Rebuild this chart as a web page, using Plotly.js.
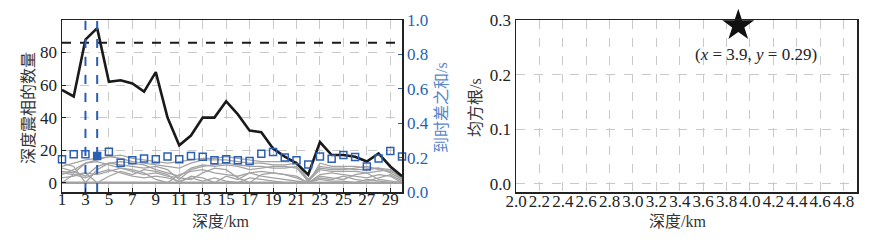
<!DOCTYPE html>
<html>
<head>
<meta charset="utf-8">
<script src="https://cdn.plot.ly/plotly-3.0.1.min.js"></script>
<style>html,body{margin:0;padding:0;background:#fff;}#plot{width:875px;height:240px;}</style>
</head>
<body>
<div id="plot"></div>
<script>
// ---- data ----
const depths = [1,2,3,4,5,6,7,8,9,10,11,12,13,14,15,16,17,18,19,20,21,22,23,24,25,26,27,28,29,30];
const phaseCount = [57,53,88,95,62,63,61,56,68,40,23,29,40,40,50,42,32,31,21,16,12,5,25,17,17,16,13,18,10,4];
const timeDiffSum = [0.19,0.22,0.22,0.21,0.234,0.17,0.185,0.195,0.19,0.206,0.19,0.21,0.205,0.185,0.19,0.185,0.18,0.222,0.232,0.20,0.185,0.16,0.206,0.193,0.215,0.203,0.148,0.195,0.238,0.206];
const bestIndex = 3;           // depth 4 km highlighted (filled square)
const selectedDepths = [3, 4]; // vertical dashed markers
const threshold = 86;          // horizontal dashed line
const grayA = [10,12,14,15,16,17,15,14,13,12,13,14,15,15,16,15,14,13,13,13,13,0,12,10,10,10,9,9,8,3];
const grayB = [5,8,12,14,16,15,13,12,11,10,9,12,14,14,14,13,12,12,11,11,12,2,9,8,8,9,10,8,7,4];
const grayC = [12,10,0,8,12,11,10,9,10,8,2,8,10,11,12,11,10,10,9,9,10,1,8,7,7,7,6,7,8,2];
const grayD = [3,4,6,5,7,9,8,6,2,0,5,7,8,6,5,4,6,7,6,5,3,0,5,6,5,4,3,5,4,0];
const grayE = [7,6,12,13,11,9,7,5,6,4,3,2,6,9,8,3,0,5,6,5,4,0,4,3,2,5,6,2,1,0];
const grayF = [0,5,6,0,4,7,5,8,7,5,0,4,3,0,4,2,6,4,3,2,1,0,3,2,4,2,1,3,5,1];
const grayG = [6,5,3,6,8,6,4,3,4,3,1,3,1,3,1,0,3,2,1,0,0,0,2,1,1,0,2,1,0,0];
const grayH = [9,7,4,10,12,13,12,11,8,6,4,9,11,10,11,10,8,9,10,10,9,1,10,9,9,8,8,9,6,2];
const grayZero = [0,0,0,0,0,0,0,0,0,0,0,0,0,0,0,0,0,0,0,0,0,0,0,0,0,0,0,0,0,0];
const leftXTicks = [1,3,5,7,9,11,13,15,17,19,21,23,25,27,29];
const leftYTicks = [0,20,40,60,80];
const rightYTicks = [0,0.2,0.4,0.6,0.8,1.0];
const rmsX = [3.9];
const rmsY = [0.29];
const rmsXTicks = [2.0,2.2,2.4,2.6,2.8,3.0,3.2,3.4,3.6,3.8,4.0,4.2,4.4,4.6,4.8];
const rmsYTicks = [0.0,0.1,0.2,0.3];
const rmsLabel = '(<i>x</i> = 3.9, <i>y</i> = 0.29)';
const xTitle = '深度/km';
const yTitleLeft = '深度震相的数量';
const yTitleRight = '到时差之和/s';
const yTitleRms = '均方根/s';

// ---- styling ----
const BLUE = '#2b5fb4';
const BLUE_T = '#5a86c8';
const SERIF = "'Liberation Serif', 'Times New Roman', 'DejaVu Serif', serif";
const CJK = "'Liberation Serif', 'Noto Sans CJK SC', serif";
const GRID = '#c9c9c9';

const traces = [];
const grays = [grayA, grayB, grayC, grayD, grayE, grayF, grayG, grayH];
grays.forEach(g => traces.push({x: depths, y: g, type: 'scatter', mode: 'lines', xaxis: 'x', yaxis: 'y',
  line: {color: '#a3a3a3', width: 1.3}, hoverinfo: 'skip', showlegend: false}));
traces.push({x: depths, y: grayZero, type: 'scatter', mode: 'lines', xaxis: 'x', yaxis: 'y',
  line: {color: '#a3a3a3', width: 2.5}, showlegend: false});
traces.push({x: [depths[0], depths[depths.length-1]], y: [threshold, threshold], type: 'scatter', mode: 'lines',
  xaxis: 'x', yaxis: 'y', line: {color: '#1a1a1a', width: 2, dash: 'dash'}, showlegend: false});
selectedDepths.forEach(d => traces.push({x: [d, d], y: [0, 1], type: 'scatter', mode: 'lines', xaxis: 'x', yaxis: 'y2',
  line: {color: BLUE, width: 2, dash: 'dash'}, showlegend: false}));
traces.push({x: depths, y: phaseCount, type: 'scatter', mode: 'lines', xaxis: 'x', yaxis: 'y',
  line: {color: '#1a1a1a', width: 2.6}, showlegend: false});
traces.push({x: depths, y: timeDiffSum, type: 'scatter', mode: 'markers', xaxis: 'x', yaxis: 'y2',
  marker: {symbol: depths.map((d, i) => i === bestIndex ? 'square' : 'square-open'), size: 7, color: BLUE,
  line: {color: BLUE, width: 1.5}}, cliponaxis: false, showlegend: false});
traces.push({x: rmsX, y: rmsY, type: 'scatter', mode: 'markers', xaxis: 'x2', yaxis: 'y3',
  marker: {symbol: 'star', size: 24, color: '#111'}, cliponaxis: false, showlegend: false});

const axLine = {showline: true, linecolor: '#222', linewidth: 1.5, ticks: 'inside', ticklen: 4, tickcolor: '#222',
  zeroline: false, gridcolor: GRID, griddash: 'dash', gridwidth: 1, tickfont: {family: SERIF, size: 17, color: '#222'}};

const W = 795, H = 172, L = 62, T = 20;
const px = p => (p - L) / W;
const py = p => (T + H - p) / H;
const titleFont = {family: CJK, size: 16, color: '#333'};

const layout = {
  width: 875, height: 240,
  margin: {l: L, r: 18, t: T, b: 48},
  paper_bgcolor: '#fff', plot_bgcolor: '#fff',
  showlegend: false,
  xaxis: Object.assign({}, axLine, {domain: [0, 0.4277], range: [1, 30], tickvals: leftXTicks, mirror: true,
    tickangle: 0, ticklabelstandoff: -9}),
  yaxis: Object.assign({}, axLine, {range: [-5.7, 100], tickvals: leftYTicks}),
  yaxis2: Object.assign({}, axLine, {overlaying: 'y', side: 'right', anchor: 'x', range: [0, 1], tickvals: rightYTicks,
    tickformat: '.1f', showgrid: false, tickcolor: BLUE, tickfont: {family: SERIF, size: 17, color: BLUE}}),
  xaxis2: Object.assign({}, axLine, {domain: [0.5711, 1], anchor: 'y3', range: [2.0, 4.915], tickvals: rmsXTicks,
    tickformat: '.1f', tickangle: 0, mirror: true, ticks: '', ticklabelstandoff: -7}),
  yaxis3: Object.assign({}, axLine, {anchor: 'x2', range: [-0.015, 0.3], tickvals: rmsYTicks, tickformat: '.1f',
    mirror: true, ticks: ''}),
  annotations: [
    {x: rmsX[0], y: rmsY[0], xref: 'x2', yref: 'y3', text: rmsLabel, showarrow: false,
     xanchor: 'center', yanchor: 'top', xshift: 18, yshift: -18, font: {family: SERIF, size: 17, color: '#222'}},
    {x: px(220), y: py(221), xref: 'paper', yref: 'paper', text: xTitle, showarrow: false,
     xanchor: 'center', yanchor: 'middle', font: titleFont},
    {x: px(677), y: py(221), xref: 'paper', yref: 'paper', text: xTitle, showarrow: false,
     xanchor: 'center', yanchor: 'middle', font: titleFont},
    {x: px(28), y: py(108), xref: 'paper', yref: 'paper', text: yTitleLeft, showarrow: false, textangle: -90,
     xanchor: 'center', yanchor: 'middle', font: titleFont},
    {x: px(441), y: py(108), xref: 'paper', yref: 'paper', text: yTitleRight, showarrow: false, textangle: -90,
     xanchor: 'center', yanchor: 'middle', font: Object.assign({}, titleFont, {color: BLUE_T})},
    {x: px(475), y: py(108), xref: 'paper', yref: 'paper', text: yTitleRms, showarrow: false, textangle: -90,
     xanchor: 'center', yanchor: 'middle', font: titleFont}
  ]
};

Plotly.newPlot('plot', traces, layout, {staticPlot: true, displayModeBar: false});
</script>
</body>
</html>
